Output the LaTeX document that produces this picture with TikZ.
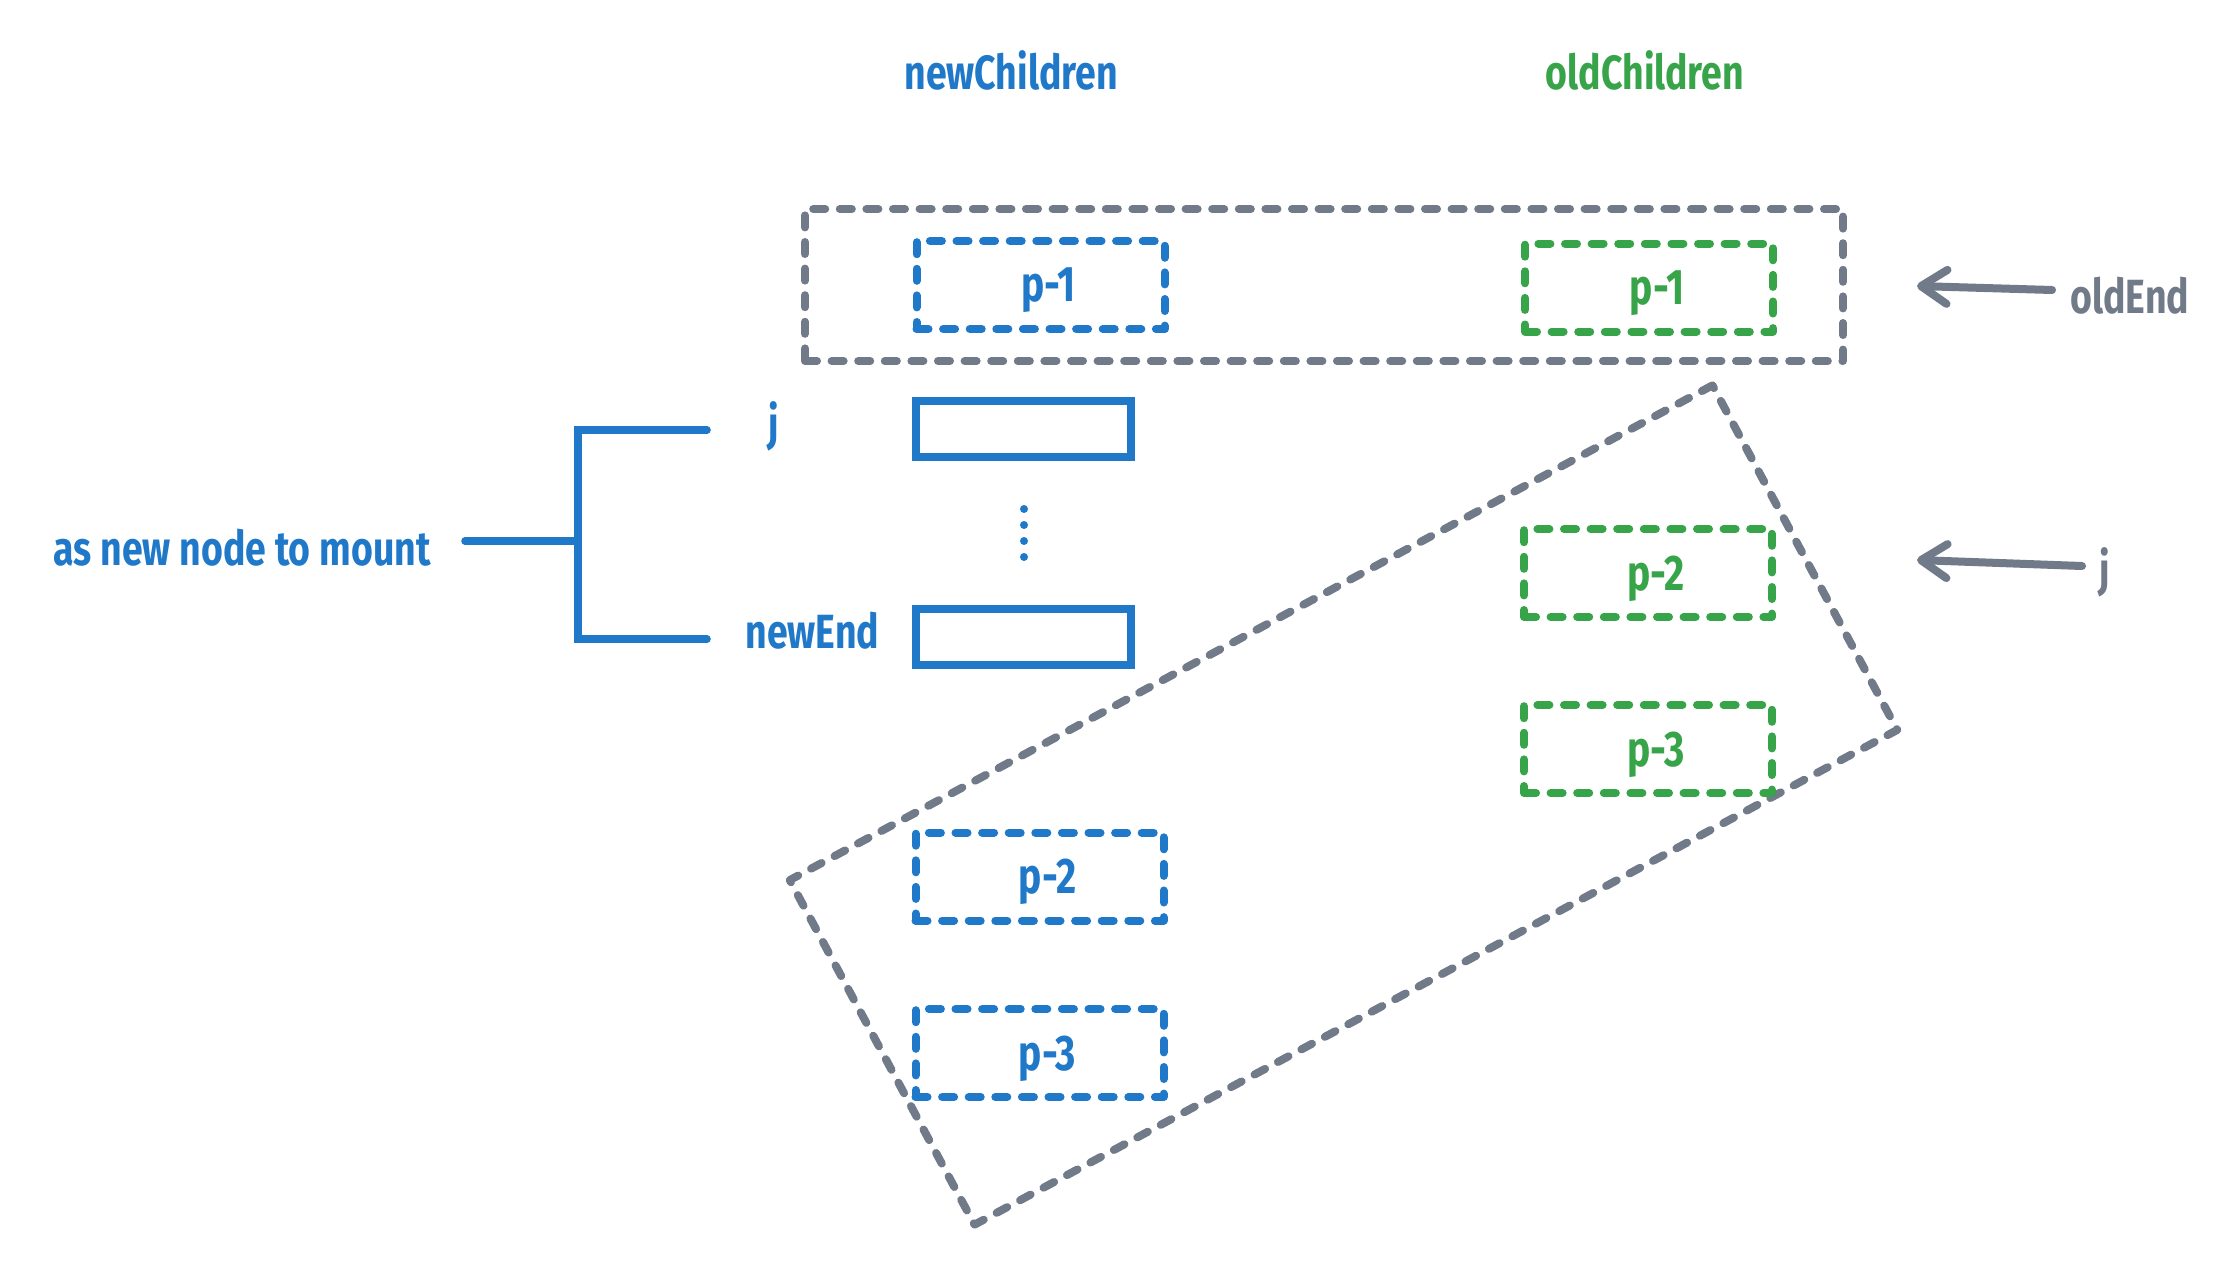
\documentclass[tikz,border=0pt]{standalone}
\usepackage{fontspec}
\setmainfont{Fira Sans}[FakeStretch=0.78]
\usetikzlibrary{arrows.meta}
\definecolor{cblue}{RGB}{31,120,200}
\definecolor{cgreen}{RGB}{56,164,74}
\definecolor{cgray}{RGB}{112,122,136}
\begin{document}
\begin{tikzpicture}[x=0.5pt,y=-0.5pt,
  lbl/.style={inner sep=0pt, font=\bfseries\fontsize{24}{28}\selectfont},
  dashbox/.style={draw, line width=4pt, dash pattern=on 6pt off 7.3pt, line cap=round, line join=round,
    minimum width=124pt, minimum height=44pt, inner sep=0pt, text depth=0pt,
    font=\bfseries\fontsize{25}{28}\selectfont},
  bbox/.style={dashbox, cblue},
  gbox/.style={dashbox, cgreen},
  solidbox/.style={draw=cblue, line width=4pt, minimum width=107.5pt, minimum height=28pt, inner sep=0pt},
  grayframe/.style={draw=cgray, line width=4pt, dash pattern=on 6pt off 7.3pt, line cap=round, line join=round, inner sep=0pt},
  garr/.style={draw=cgray, line width=4pt, line cap=round,
    -{Straight Barb[length=13pt,width=17pt,line cap=round,line join=round]}},
  bline/.style={draw=cblue, line width=3.8pt, line cap=round}
]
\useasboundingbox[fill=white] (0,0) rectangle (2220,1263);

% column titles
\node[lbl, cblue, anchor=base] (newCh) at (1011,90) {newChildren};
\node[lbl, cgreen, anchor=base] (oldCh) at (1645,90) {oldChildren};

% gray frame around p-1 row
\node[grayframe, minimum width=519pt, minimum height=76pt] (topframe) at (1324,285) {};

% rotated gray frame
\node[grayframe, rotate=28.2, minimum width=523.5pt, minimum height=195.5pt] (rotframe) at (1343.5,805) {};

% new children boxes
\node[bbox] (np1) at (1040.5,285) {\hspace{8pt}p-1};
\node[solidbox] (nj) at (1023.5,429) {};
\node[solidbox] (nend) at (1023.5,637) {};
\node[bbox] (np2) at (1039.5,876.5) {\hspace{8pt}p-2};
\node[bbox] (np3) at (1039.5,1053) {\hspace{8pt}p-3};

% dots
\foreach \yy in {509,525,541,557} \fill[cblue] (1024,\yy) circle (2pt);

% old children boxes
\node[gbox] (op1) at (1649,287.5) {\hspace{8pt}p-1};
\node[gbox] (op2) at (1648,573) {\hspace{8pt}p-2};
\node[gbox] (op3) at (1648,749) {\hspace{8pt}p-3};

% left labels
\node[lbl, cblue] (lj) at (774,426) {j};
\node[lbl, cblue, anchor=base west] (lend) at (745,648) {newEnd};
\node[lbl, cblue, anchor=base west] (lmount) at (53,565) {as new node to mount};

% bracket
\coordinate (bTopEnd) at (707,430);
\coordinate (bTopCorner) at (578,430);
\coordinate (bBotCorner) at (578,639);
\coordinate (bBotEnd) at (707,639);
\coordinate (bMid) at (578,541);
\coordinate (bStem) at (465,541);
\draw[bline, line join=miter] (bTopEnd) -- (bTopCorner) -- (bBotCorner) -- (bBotEnd);
\draw[bline] (bStem) -- (bMid);

% right pointers
\node[lbl, cgray, anchor=base west] (loldend) at (2070,313) {oldEnd};
\node[lbl, cgray] (rj) at (2105,572) {j};
\coordinate (aTail1) at (2052,290);
\coordinate (aTip1) at (1917,286);
\coordinate (aTail2) at (2082,566);
\coordinate (aTip2) at (1917,560);
\draw[garr] (aTail1) -- (aTip1);
\draw[garr] (aTail2) -- (aTip2);
\end{tikzpicture}
\end{document}
